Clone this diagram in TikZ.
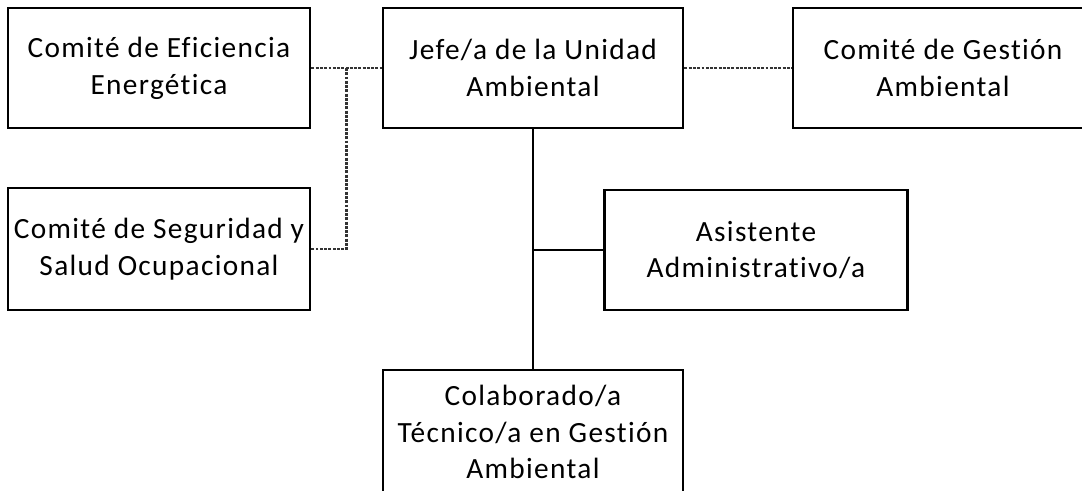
\documentclass[tikz,border=0pt]{standalone}
\usepackage{fontspec}
\setmainfont{Carlito}[LetterSpace=4.5, Ligatures={NoCommon,NoContextual}]
\usepackage{tikz}
\usetikzlibrary{positioning,calc}
\tikzset{orgbox/.style={draw=black, line width=2.2pt, fill=white, align=center,
  inner sep=0pt, font=\fontsize{22}{27.5}\selectfont}}
\tikzset{solidlink/.style={draw=black, line width=1.8pt}}
\tikzset{dashlink/.style={draw=black!80, line width=1.7pt, dash pattern=on 2.2pt off 1pt}}

\begin{document}
\begin{tikzpicture}[x=0.75pt, y=-0.75pt]
	\useasboundingbox (0,0) rectangle (1082,490);
	\begin{scope}
		\clip (0,0) rectangle (1082,490);
		% upper row
		\node[orgbox, minimum width=226.5pt, minimum height=90pt] (eficiencia) at (159,68)
			{Comité de Eficiencia\\Energética};
		\node[orgbox, minimum width=225pt, minimum height=90pt] (jefe) at (533,68)
			{Jefe/a de la Unidad\\Ambiental};
		\node[orgbox, minimum width=225pt, minimum height=90pt] (gestion) at (943,68)
			{Comité de Gestión\\Ambiental};
		% middle row
		\node[orgbox, minimum width=226.5pt, minimum height=91.5pt] (seguridad) at (159,249)
			{Comité de Seguridad y\\Salud Ocupacional};
		\node[orgbox, minimum width=227pt, minimum height=90pt] (asistente) at (756,250)
			{Asistente\\Administrativo/a};
		% lower row
		\node[orgbox, minimum width=225pt, minimum height=93pt] (colaborado) at (533,432)
			{Colaborado/a\\Técnico/a en Gestión\\Ambiental};
	\end{scope}
	% links
	\coordinate (split) at ($(eficiencia.east)!0.5!(jefe.west)$);
	\draw[dashlink] (eficiencia.east) -- (jefe.west);
	\draw[dashlink] (split) |- (seguridad.east);
	\draw[dashlink] (jefe.east) -- (gestion.west);
	\draw[solidlink] (jefe.south) -- (colaborado.north);
	\draw[solidlink] (asistente.west) -- (asistente.west -| jefe.south);
\end{tikzpicture}
\end{document}
